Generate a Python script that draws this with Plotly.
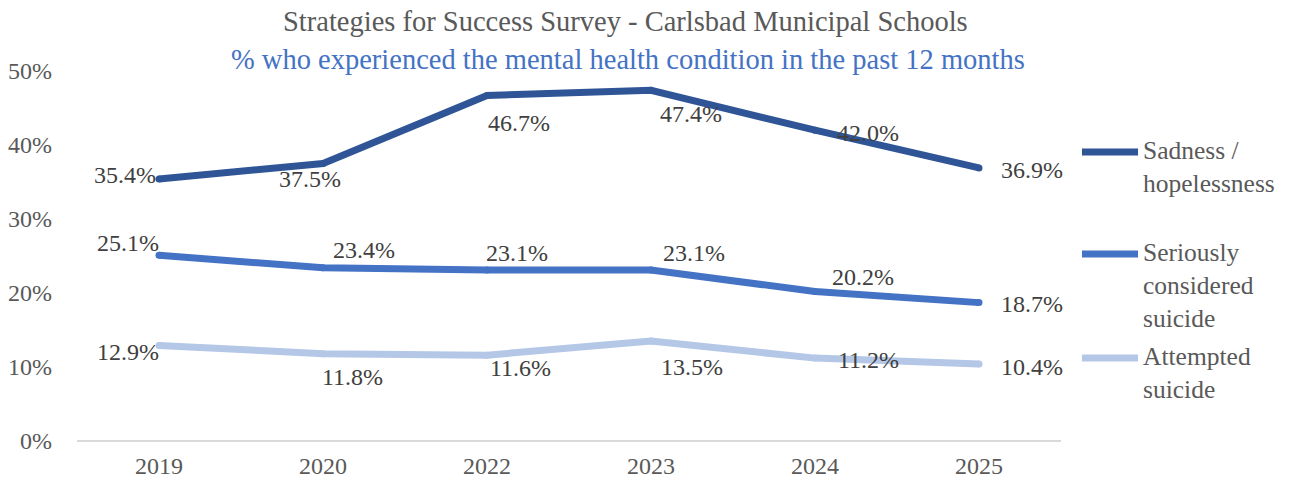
import plotly.graph_objects as go

# Survey years and series values (% of students)
years = ["2019", "2020", "2022", "2023", "2024", "2025"]
series_names = ["Sadness /<br>hopelessness", "Seriously<br>considered<br>suicide", "Attempted<br>suicide"]
sadness = [35.4, 37.5, 46.7, 47.4, 42.0, 36.9]
considered = [25.1, 23.4, 23.1, 23.1, 20.2, 18.7]
attempted = [12.9, 11.8, 11.6, 13.5, 11.2, 10.4]
y_ticks = [0, 10, 20, 30, 40, 50]

title_text = "Strategies for Success Survey - Carlsbad Municipal Schools"
subtitle_text = "% who experienced the mental health condition in the past 12 months"

colors = ["#2F5597", "#4472C4", "#B4C7E7"]
values = [sadness, considered, attempted]

# Pixel offsets of each data label from its point (dx right, dy down)
label_dx = [
    [-34, -13, 32, 40, 53, 53],
    [-31, 41, 30, 43, 48, 53],
    [-31, 29, 33, 41, 53, 53],
]
label_dy = [
    [-4, 15, 28, 24, 3, 2],
    [-12, -18, -17, -17, -15, 1],
    [6, 23, 13, 26, 2, 3],
]

FONT = "Liberation Serif"
GRAY = "#595959"
LABEL = "#404040"

fig = go.Figure()
for name, vals, col in zip(series_names, values, colors):
    fig.add_trace(go.Scatter(
        x=years, y=vals, mode="lines+markers", name=name,
        line=dict(color=col, width=7),
        marker=dict(color=col, size=7, line=dict(width=0)),
        showlegend=False, hoverinfo="skip",
    ))

annotations = []
for vals, dxs, dys in zip(values, label_dx, label_dy):
    for i, (v, dx, dy) in enumerate(zip(vals, dxs, dys)):
        annotations.append(dict(
            x=i, y=v, xref="x", yref="y", text=f"{v:.1f}%",
            showarrow=False, xshift=dx, yshift=-dy,
            font=dict(family=FONT, size=24, color=LABEL),
        ))

# Title lines
annotations.append(dict(x=0.557, y=1.133, xref="paper", yref="paper", text=title_text,
                        showarrow=False, xanchor="center", yanchor="middle",
                        font=dict(family=FONT, size=28.5, color=GRAY)))
annotations.append(dict(x=0.56, y=1.03, xref="paper", yref="paper", text=subtitle_text,
                        showarrow=False, xanchor="center", yanchor="middle",
                        font=dict(family=FONT, size=28.5, color="#4472C4")))

# Legend: line swatch plus wrapped label, one entry per series
legend_y = [0.781, 0.5054, 0.2243]
shapes = []
for name, col, ly in zip(series_names, colors, legend_y):
    shapes.append(dict(type="line", xref="paper", yref="paper",
                       x0=1.0213, x1=1.0783, y0=ly, y1=ly,
                       line=dict(color=col, width=7)))
    annotations.append(dict(x=1.081, y=ly, xref="paper", yref="paper", text=name,
                            showarrow=False, xanchor="left", yanchor="top", align="left",
                            yshift=18,
                            font=dict(family=FONT, size=25.5, color=GRAY)))

fig.update_layout(
    width=1293, height=486,
    margin=dict(l=77, r=232, t=71, b=45),
    paper_bgcolor="white", plot_bgcolor="white",
    font=dict(family=FONT, size=24, color=GRAY),
    xaxis=dict(type="category", range=[-0.5, 5.5], showgrid=False, zeroline=False,
               showline=False, ticks="", automargin=False,
               tickfont=dict(family=FONT, size=24, color=GRAY),
               ticklabelstandoff=8),
    yaxis=dict(range=[0, 50], tickvals=y_ticks, ticktext=[f"{t}%" for t in y_ticks],
               showgrid=False, zeroline=True, zerolinecolor="#D9D9D9", zerolinewidth=1.5,
               showline=False, ticks="", ticklabelstandoff=24, automargin=False,
               tickfont=dict(family=FONT, size=24, color=GRAY)),
    annotations=annotations, shapes=shapes,
)

fig.write_html("out.html")
